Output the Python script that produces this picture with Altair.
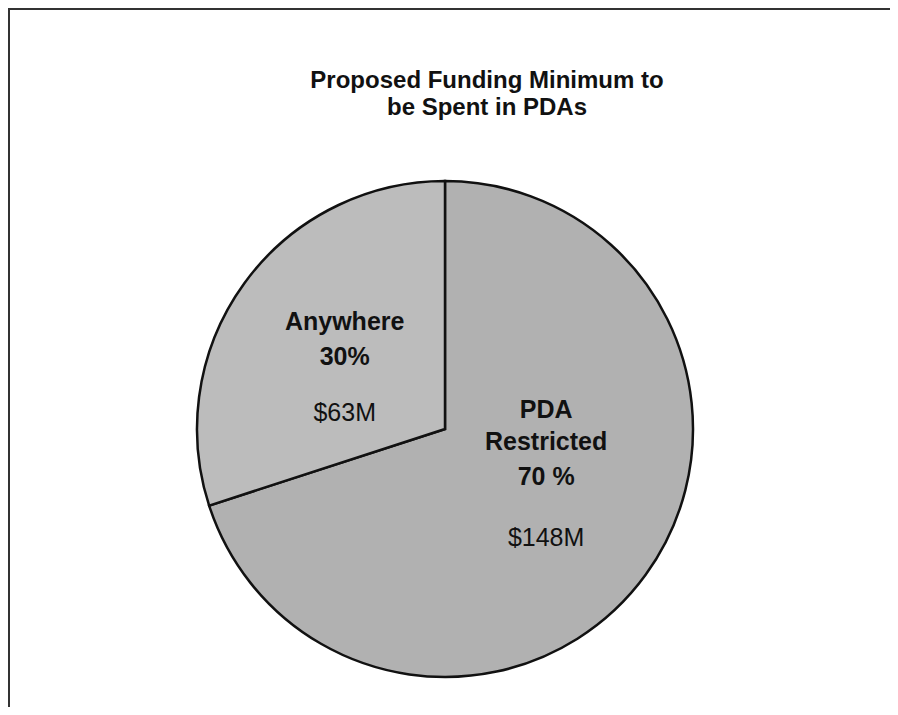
import altair as alt
import pandas as pd

# ---- data ----
categories = ["PDA Restricted", "Anywhere"]
shares = [70, 30]
name_line1 = ["PDA", "Anywhere"]
name_line2 = ["Restricted", "30%"]
name_line3 = ["70 %", ""]
amounts = ["$148M", "$63M"]
fills = ["#b1b1b1", "#bcbcbc"]
title_lines = ["Proposed Funding Minimum to", "be Spent in PDAs"]

df = pd.DataFrame({
    "category": categories,
    "share": shares,
    "l1": name_line1,
    "l2": name_line2,
    "l3": name_line3,
    "amount": amounts,
    "order": [0, 1],
})

W, H = 882, 699
CX, CY, R = 437, 421, 248
FONT = "'Liberation Sans', Arial, sans-serif"

base = alt.Chart(df).encode(
    theta=alt.Theta("share:Q", stack=True),
    order=alt.Order("order:O"),
)

pie = base.mark_arc(outerRadius=R, stroke="#111111", strokeWidth=2.5).encode(
    color=alt.Color("category:N", scale=alt.Scale(domain=categories, range=fills), legend=None),
    x=alt.value(CX),
    y=alt.value(CY),
)


def label(cat, field, dy, weight, radius):
    return base.transform_calculate(
        lab=f"datum.category == '{cat}' ? datum.{field} : ''"
    ).mark_text(
        radius=radius, dy=dy, fontSize=25, fontWeight=weight, font=FONT, color="#111111"
    ).encode(text="lab:N", x=alt.value(CX), y=alt.value(CY))


labels = [
    label("PDA Restricted", "l1", -92, "bold", 125),
    label("PDA Restricted", "l2", -60, "bold", 125),
    label("PDA Restricted", "l3", -25, "bold", 125),
    label("PDA Restricted", "amount", 36, "normal", 125),
    label("Anywhere", "l1", -34, "bold", 124),
    label("Anywhere", "l2", 1, "bold", 124),
    label("Anywhere", "amount", 57, "normal", 124),
]

title = alt.Chart(pd.DataFrame({"t": [0]})).mark_text(
    fontSize=24, fontWeight="bold", font=FONT, baseline="alphabetic",
    lineHeight=27, align="center", color="#111111"
).encode(
    x=alt.value(479), y=alt.value(80), text=alt.value(title_lines)
)

top_border = alt.Chart(pd.DataFrame({"t": [0]})).mark_rule(
    color="#333333", strokeWidth=2
).encode(x=alt.value(0), x2=alt.value(W), y=alt.value(1))
left_border = alt.Chart(pd.DataFrame({"t": [0]})).mark_rule(
    color="#333333", strokeWidth=2
).encode(x=alt.value(1), y=alt.value(0), y2=alt.value(H))

chart = alt.layer(pie, *labels, title, top_border, left_border).properties(
    width=W, height=H, autosize=alt.AutoSizeParams(type="none"), padding=0
).configure_view(stroke=None)

chart.save("out.html", embed_options={"renderer": "svg", "actions": False})
